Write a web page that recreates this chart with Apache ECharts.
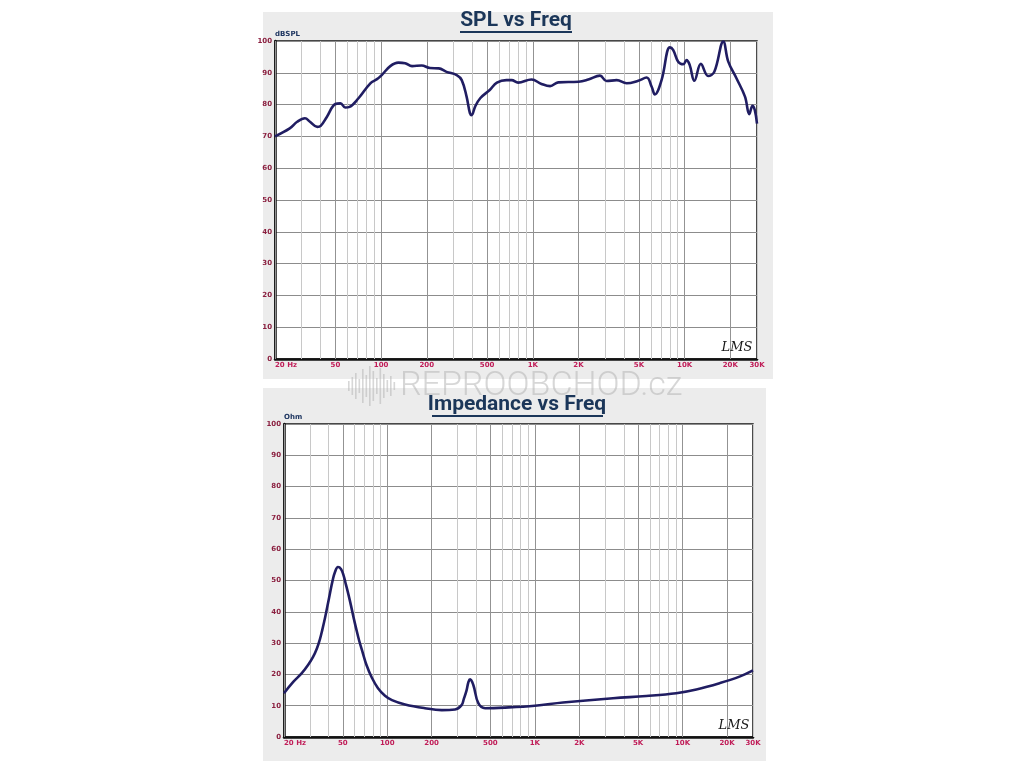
<!DOCTYPE html>
<html>
<head>
<meta charset="utf-8">
<title>SPL / Impedance vs Freq</title>
<script src="https://cdn.jsdelivr.net/npm/echarts@6/dist/echarts.min.js"></script>
<style>
html, body { margin: 0; padding: 0; background: #fff; }
#myChart { width: 1024px; height: 768px; }
</style>
</head>
<body>
<div id="myChart"></div>
<script>
// SPL response (Hz / dB)
var splFreq = [20, 25, 28, 31.5, 34, 38, 40, 44, 50, 54, 58, 62, 71, 85, 94, 101, 115, 130, 144, 160, 185, 210, 240, 270, 315, 340, 366, 385, 395, 416, 450, 520, 580, 670, 725, 800,
    980, 1140, 1300, 1470, 2000, 2320, 2770, 3060, 3570, 4150, 4950, 5620, 6070, 6370, 7050, 8000, 8400, 9070, 9800, 10300, 10800, 11600, 12800, 14300, 15700, 18000, 19400,
    22000, 25000, 26700, 28000, 29000, 30000];
var splValue = [70, 72.5, 74.6, 75.7, 74.6, 73, 73.3, 76.2, 80.2, 80.4, 79.1, 79.3, 82, 86.7, 88, 89.3, 92.1, 93.2, 93, 92.1, 92.3, 91.5, 91.4, 90.3, 89.3, 87.7, 82.5, 77.3, 76.7, 79.3, 82, 84.6, 86.9, 87.7, 87.7, 86.9,
    87.9, 86.5, 85.8, 87, 87.2, 87.9, 89.1, 87.4, 87.7, 86.7, 87.5, 88.5, 85.6, 83.2, 87.7, 98, 97.2, 93.5, 92.7, 94, 92.5, 87.5, 92.8, 89, 90.3, 99.8, 93.5,
    88.2, 82.5, 77, 79.6, 78.3, 74];

// impedance (Hz / Ohm)
var impFreq = [20, 23.1, 26.4, 29.1, 31.4, 33.4, 35, 36.4, 37.9, 39.4, 41, 42.6, 44.3, 46.4, 48.6, 50.5, 52.6, 54.7, 56.9, 59.1, 61.5, 64.4, 68, 72.4, 78.6, 86.6, 96.6, 107.7,
    132, 180, 234, 288, 319, 330, 345, 355, 364, 383, 414, 460, 627, 1000, 1550, 3380, 5670, 9060, 12400, 17800, 24300, 30000];
var impValue = [14, 17.6, 20.4, 23, 25.5, 28.3, 31.2, 34.4, 38, 41.9, 46, 49.8, 52.7, 54.3, 53.7, 51.8, 48.6, 45.4, 41.9, 38.3, 34.8, 31, 27.2, 23, 19, 15.6, 13.2, 11.8,
    10.4, 9.2, 8.6, 8.8, 10.2, 12.1, 15, 17.6, 18.4, 16.6, 10.8, 9.2, 9.4, 10, 11, 12.4, 13.1, 14, 15.2, 17.2, 19.3, 21.3];

// vertical grid lines and labelled frequencies
var gridFreq = [20, 30, 40, 50, 60, 70, 80, 90, 100, 200, 300, 400, 500, 600, 700, 800, 900,
    1000, 2000, 3000, 4000, 5000, 6000, 7000, 8000, 9000, 10000, 20000, 30000];
var majorFreq = [20, 50, 100, 200, 500, 1000, 2000, 5000, 10000, 20000];
var tickFreq = [20, 50, 100, 200, 500, 1000, 2000, 5000, 10000, 20000, 30000];
var tickLabel = ['20 Hz', '50', '100', '200', '500', '1K', '2K', '5K', '10K', '20K', '30K'];

var curveColor = '#201d62';
var labelRed = '#c01d58';
var yLabelColor = '#8b2040';

function pairs(xs, ys) {
    var res = [];
    for (var i = 0; i < xs.length; i++) {
        res.push([xs[i], ys[i]]);
    }
    return res;
}

function vLines() {
    return gridFreq.map(function (f) {
        var i = tickFreq.indexOf(f);
        return {
            xAxis: f,
            lineStyle: { color: majorFreq.indexOf(f) >= 0 ? '#939393' : '#c8c8c8' },
            label: i >= 0
                ? { show: true, formatter: tickLabel[i], align: i === 0 ? 'left' : 'center' }
                : { show: false }
        };
    });
}

function gridSeries(idx) {
    return {
        type: 'line',
        xAxisIndex: idx,
        yAxisIndex: idx,
        data: [],
        z: 1,
        silent: true,
        markLine: {
            silent: true,
            symbol: ['none', 'none'],
            lineStyle: { type: 'solid', width: 1 },
            label: {
                position: 'start',
                distance: 3,
                color: labelRed,
                fontSize: 7,
                fontWeight: 'bold',
                fontFamily: 'DejaVu Sans'
            },
            emphasis: { disabled: true },
            data: vLines()
        }
    };
}

function curveSeries(idx, xs, ys, smooth) {
    return {
        type: 'line',
        xAxisIndex: idx,
        yAxisIndex: idx,
        data: pairs(xs, ys),
        smooth: smooth,
        showSymbol: false,
        z: 5,
        lineStyle: { color: curveColor, width: 2.6 },
        emphasis: { disabled: true }
    };
}

function xAxisOpt(idx) {
    return {
        type: 'log',
        logBase: 10,
        gridIndex: idx,
        min: 20,
        max: 30000,
        axisLine: { show: true, lineStyle: { color: '#111', width: 2.5 } },
        axisTick: { show: false },
        axisLabel: { show: false },
        splitLine: { show: false }
    };
}

function yAxisOpt(idx, unit) {
    return {
        type: 'value',
        gridIndex: idx,
        min: 0,
        max: 100,
        interval: 10,
        name: unit,
        nameLocation: 'end',
        nameGap: 3,
        nameTextStyle: { align: 'left', color: '#1d3560', fontSize: 7, fontWeight: 'bold', fontFamily: 'DejaVu Sans' },
        axisLine: { show: true, lineStyle: { color: '#111', width: 2.5 } },
        axisTick: { show: false },
        axisLabel: { margin: 3, color: yLabelColor, fontSize: 7, fontWeight: 'bold', fontFamily: 'DejaVu Sans' },
        splitLine: { show: true, lineStyle: { color: '#8c8c8c', width: 1 } }
    };
}

// watermark bars
var wmBars = [];
var wmHeights = [10, 18, 26, 14, 34, 22, 40, 30, 16, 36, 24, 12, 20, 8];
wmHeights.forEach(function (h, i) {
    wmBars.push({
        type: 'rect',
        z: 100,
        silent: true,
        shape: { x: 348 + i * 3.5, y: 386 - h / 2, width: 1.6, height: h },
        style: { fill: 'rgba(175,175,175,0.5)' }
    });
});

var option = {
    animation: false,
    backgroundColor: '#ffffff',
    grid: [
        { left: 275, top: 41, width: 482, height: 318, show: true, backgroundColor: '#ffffff', borderColor: '#111', borderWidth: 1.5 },
        { left: 284, top: 424, width: 469, height: 313, show: true, backgroundColor: '#ffffff', borderColor: '#111', borderWidth: 1.5 }
    ],
    xAxis: [xAxisOpt(0), xAxisOpt(1)],
    yAxis: [yAxisOpt(0, 'dBSPL'), yAxisOpt(1, 'Ohm')],
    graphic: [
        { type: 'rect', z: -10, silent: true, shape: { x: 263, y: 12, width: 510, height: 367 }, style: { fill: '#ececec' } },
        { type: 'rect', z: -10, silent: true, shape: { x: 263, y: 388, width: 503, height: 373 }, style: { fill: '#ececec' } },
        { type: 'text', z: 10, x: 516, y: 21, style: { text: 'SPL vs Freq', align: 'center', verticalAlign: 'middle', fill: '#1b3659', font: 'bold 21px Roboto' } },
        { type: 'line', z: 10, shape: { x1: 460, y1: 32, x2: 572, y2: 32 }, style: { stroke: '#1b3659', lineWidth: 2 } },
        { type: 'text', z: 10, x: 517, y: 405, style: { text: 'Impedance vs Freq', align: 'center', verticalAlign: 'middle', fill: '#1b3659', font: 'bold 21px Roboto' } },
        { type: 'line', z: 10, shape: { x1: 432, y1: 416, x2: 603, y2: 416 }, style: { stroke: '#1b3659', lineWidth: 2 } },
        { type: 'text', z: 10, x: 737, y: 348, style: { text: 'LMS', align: 'center', verticalAlign: 'middle', fill: '#1a1a1a', font: 'italic 13px "DejaVu Serif"' } },
        { type: 'text', z: 10, x: 734, y: 726, style: { text: 'LMS', align: 'center', verticalAlign: 'middle', fill: '#1a1a1a', font: 'italic 13px "DejaVu Serif"' } },
        { type: 'text', z: 100, silent: true, x: 400, y: 386, style: { text: 'REPROOBCHOD.cz', align: 'left', verticalAlign: 'middle', fill: 'rgba(175,175,175,0.5)', font: '300 34px Roboto' } }
    ].concat(wmBars),
    series: [
        gridSeries(0),
        curveSeries(0, splFreq, splValue, 0.4),
        gridSeries(1),
        curveSeries(1, impFreq, impValue, 0.4)
    ]
};

echarts.init(document.getElementById('myChart')).setOption(option);
</script>
</body>
</html>
